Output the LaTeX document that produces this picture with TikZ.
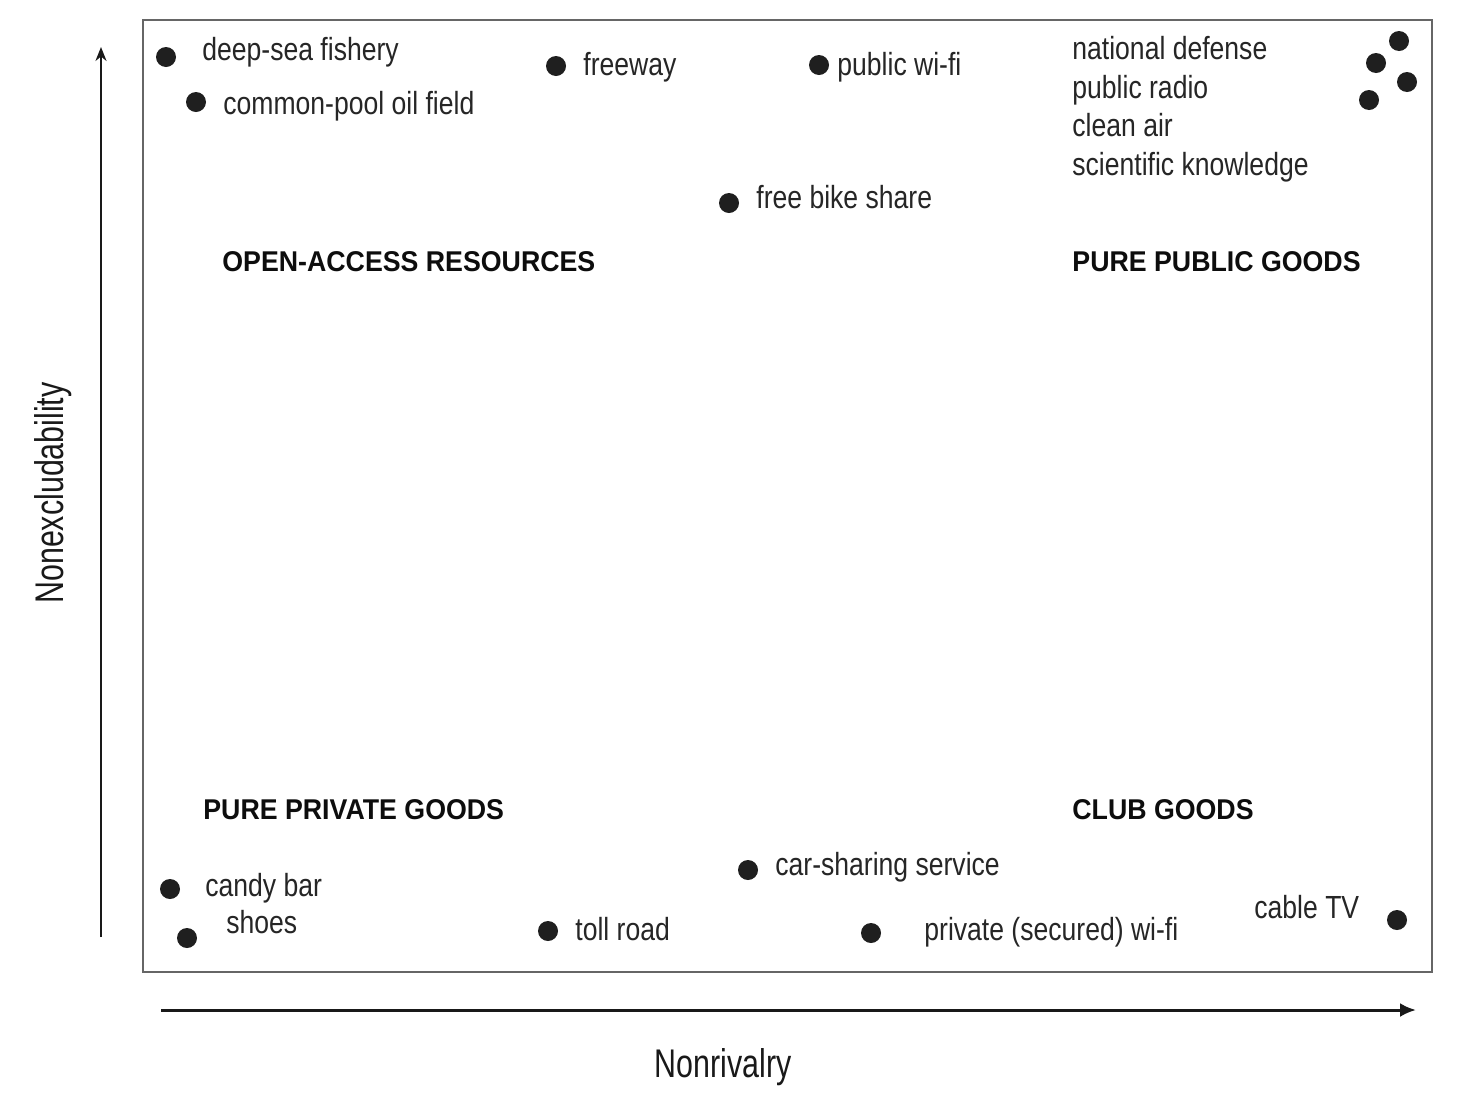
\documentclass[tikz,border=0pt]{standalone}
\usepackage{fontspec}
\setmainfont{Liberation Sans}[FakeStretch=0.83]
\newfontfamily\catfont{Liberation Sans Bold}[FakeStretch=0.935]
\newfontfamily\axfont{Liberation Sans}[FakeStretch=0.76]
\usetikzlibrary{arrows.meta}
\tikzset{
  dot/.style={circle, fill=black!88, minimum size=10pt, inner sep=0pt, draw=none},
  itemlab/.style={anchor=base west, inner sep=0pt, text=black!85, font=\fontsize{16}{19}\selectfont},
  catlab/.style={anchor=base west, inner sep=0pt, text=black!95, font=\catfont\fontsize{14.3}{17}\selectfont},
  axlab/.style={anchor=base, inner sep=0pt, text=black!90, font=\axfont\fontsize{20}{24}\selectfont},
  axisarrow/.style={black!90},
  frame/.style={draw=black!60, line width=1.4pt}
}
\begin{document}
\begin{tikzpicture}[x=0.5pt,y=-0.5pt]
\useasboundingbox[fill=white] (0,0) rectangle (1466,1104);
% frame
\node[frame, minimum width=644.5pt, minimum height=476pt, anchor=north west, inner sep=0pt] (box) at (141.5,18.5) {};
% axes
\coordinate (yb) at (101,937);
\coordinate (yt) at (101,47);
\coordinate (xl) at (161,1010);
\coordinate (xr) at (1416,1010);
\draw[axisarrow, line width=1pt, -{Stealth[length=7pt,width=5.5pt]}] (yb) -- (yt);
\draw[axisarrow, line width=1.5pt, -{Latex[length=8pt,width=7pt]}] (xl) -- (xr);
\node[axlab] (xlab) at (723,1077) {Nonrivalry};
\node[axlab, rotate=90] (ylab) at (63,493) {Nonexcludability};
% top-left
\node[dot] (d1) at (166,57) {};
\node[itemlab] (t1) at (202,60) {deep-sea fishery};
\node[dot] (d2) at (196,102) {};
\node[itemlab] (t2) at (223,114) {common-pool oil field};
\node[dot] (d3) at (556,66) {};
\node[itemlab] (t3) at (583,75) {freeway};
\node[dot] (d4) at (819,65) {};
\node[itemlab] (t4) at (837,75) {public wi-fi};
\node[dot] (d5) at (729,203) {};
\node[itemlab] (t5) at (756,208) {free bike share};
% top-right list
\node[itemlab] (t6) at (1072,59.5) {national defense};
\node[itemlab] (t7) at (1072,98) {public radio};
\node[itemlab] (t8) at (1072,136.5) {clean air};
\node[itemlab] (t9) at (1072,175) {scientific knowledge};
\node[dot] (d6) at (1399,41) {};
\node[dot] (d7) at (1376,63) {};
\node[dot] (d8) at (1407,82) {};
\node[dot] (d9) at (1369,100) {};
% category labels
\node[catlab] (c1) at (222,271) {OPEN-ACCESS RESOURCES};
\node[catlab] (c2) at (1072,271) {PURE PUBLIC GOODS};
\node[catlab] (c3) at (203,819) {PURE PRIVATE GOODS};
\node[catlab] (c4) at (1072,819) {CLUB GOODS};
% bottom
\node[dot] (d10) at (748,870) {};
\node[itemlab] (t10) at (775,875) {car-sharing service};
\node[dot] (d11) at (170,889) {};
\node[itemlab] (t11) at (205,896) {candy bar};
\node[dot] (d12) at (187,938) {};
\node[itemlab] (t12) at (226,933) {shoes};
\node[dot] (d13) at (548,931) {};
\node[itemlab] (t13) at (575,940) {toll road};
\node[dot] (d14) at (871,933) {};
\node[itemlab] (t14) at (924,940) {private (secured) wi-fi};
\node[itemlab] (t15) at (1254,918) {cable TV};
\node[dot] (d15) at (1397,920) {};
\end{tikzpicture}
\end{document}
